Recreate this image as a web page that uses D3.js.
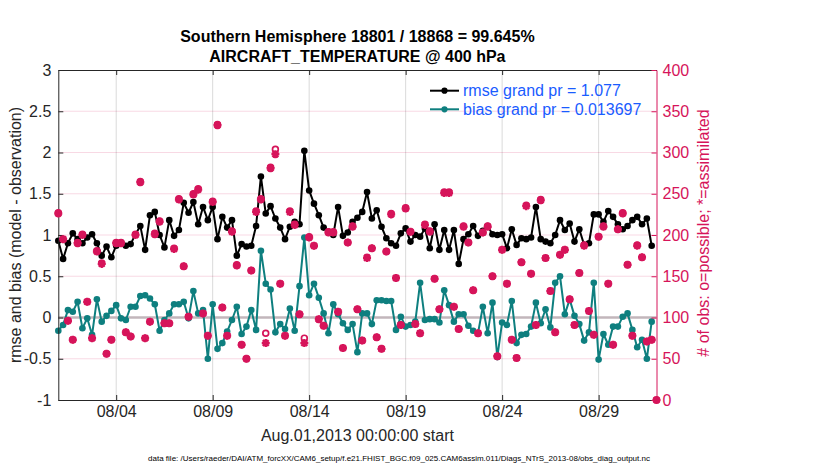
<!DOCTYPE html>
<html>
<head>
<meta charset="utf-8">
<script src="https://cdn.jsdelivr.net/npm/d3@7"></script>
<style>
body { margin: 0; background: #fff; }
svg { display: block; font-family: "Liberation Sans", Arial, Helvetica, sans-serif; }
</style>
</head>
<body>
<svg width="830" height="470"></svg>
<script>
// 6-hourly bins, Aug 1 00Z .. Sep 1 00Z (125 bins)
var rmse = [
  0.93, 0.71, 0.90, 1.02, 0.95, 0.90, 0.97, 1.01, 0.90, 0.75,
  0.86, 0.73, 0.87, 0.91, 0.87, 0.89, 1.01, 1.11, 0.82, 1.24,
  1.28, 1.00, 0.85, 1.18, 0.99, 1.06, 1.39, 1.27, 1.40, 1.13,
  1.34, 1.18, 1.34, 0.95, 1.22, 1.09, 1.18, 0.75, 0.89, 0.86,
  0.87, 1.11, 1.71, 1.26, 1.35, 1.20, 1.09, 0.95, 1.10, 1.16,
  1.13, 2.02, 1.54, 1.38, 1.24, 1.09, 1.04, 1.00, 1.34, 0.99,
  1.03, 1.16, 1.21, 1.28, 1.52, 1.20, 1.30, 1.10, 0.96, 0.90,
  0.87, 1.02, 1.08, 0.92, 1.00, 0.98, 1.08, 0.84, 1.13, 0.82,
  1.06, 0.82, 1.06, 0.65, 0.95, 1.01, 1.11, 0.99, 1.05, 1.11,
  1.01, 1.00, 1.01, 0.84, 1.07, 0.88, 0.96, 0.95, 0.97, 1.34,
  0.95, 0.92, 0.90, 1.00, 1.18, 1.06, 1.14, 0.92, 1.07, 0.88,
  0.90, 1.25, 1.25, 1.16, 1.29, 1.22, 1.13, 1.07, 1.11, 1.18,
  1.22, 1.13, 1.20, 0.87, null
];

var bias = [
  -0.16, -0.09, 0.09, 0.07, 0.19, -0.13, -0.01, -0.21, 0.22, -0.05,
  0.02, 0.08, 0.15, -0.01, -0.03, 0.13, 0.13, 0.26, 0.27, 0.23,
  0.16, -0.16, -0.03, 0.05, 0.16, 0.16, 0.19, -0.01, 0.32, 0.05,
  0.09, -0.50, 0.16, -0.38, -0.31, -0.17, -0.03, 0.13, -0.20, -0.11,
  0.09, -0.15, 0.81, 0.41, 0.34, -0.18, -0.08, -0.14, 0.11, -0.16,
  0.38, 0.97, 0.27, 0.41, 0.24, 0.05, -0.19, 0.16, 0.04, -0.07,
  -0.15, -0.08, -0.42, 0.05, 0.05, -0.08, 0.21, 0.21, 0.20, 0.20,
  -0.15, 0.01, -0.11, -0.09, -0.05, 0.42, -0.03, -0.02, -0.02, -0.06,
  0.33, 0.15, -0.05, 0.04, 0.04, -0.10, -0.16, -0.19, 0.13, -0.19,
  0.18, -0.48, -0.06, -0.09, 0.20, -0.31, -0.21, -0.20, -0.11, 0.18,
  -0.07, 0.10, -0.12, 0.42, 0.50, 0.04, 0.22, 0.02, -0.08, -0.28,
  -0.18, 0.42, -0.51, -0.20, -0.33, -0.11, -0.11, 0.01, 0.05, -0.15,
  -0.36, -0.27, -0.50, -0.05, null
];

var possible = [
  227, 195, 96, 73, 191, 201, 119, 75, 181, 166,
  56, 73, 191, 191, 82, 77, 201, 265, 75, 95,
  202, 217, 93, 93, 184, 244, 162, 101, 250, 256,
  105, 78, 241, 334, 112, 78, 205, 164, 67, 50,
  157, 229, 244, 81, 282, 304, 141, 78, 229, 213,
  104, 75, 198, 187, 98, 90, 204, 204, 107, 63,
  191, 211, 110, 72, 173, 184, 76, 62, 180, 226,
  148, 91, 233, 204, 92, 81, 213, 205, 147, 110,
  252, 252, 113, 86, 211, 191, 133, 81, 203, 211,
  150, 53, 182, 141, 73, 51, 167, 236, 153, 91,
  243, 172, 132, 82, 176, 182, 122, 91, 154, 188,
  108, 79, 198, 211, 141, 67, 207, 227, 164, 78,
  188, 173, 71, 73, 0
];

var assimilated = [
  226, 195, 96, 73, 190, 200, 119, 75, 180, 165,
  56, 73, 190, 190, 82, 77, 200, 264, 75, 95,
  201, 216, 93, 93, 183, 243, 162, 101, 249, 255,
  105, 78, 240, 333, 112, 78, 204, 163, 67, 50,
  157, 228, 243, 69, 281, 298, 141, 78, 228, 212,
  104, 69, 197, 187, 98, 90, 203, 203, 107, 63,
  191, 210, 110, 72, 172, 184, 76, 62, 180, 225,
  148, 91, 232, 204, 92, 81, 212, 204, 147, 110,
  251, 251, 113, 86, 210, 191, 133, 81, 203, 210,
  150, 53, 182, 141, 73, 51, 167, 235, 153, 91,
  242, 172, 132, 82, 176, 182, 122, 91, 154, 187,
  108, 79, 198, 210, 141, 67, 207, 226, 164, 78,
  187, 173, 71, 73, 0
];

var tickDays = [4, 9, 14, 19, 24, 29];
var leftTicks = [-1, -0.5, 0, 0.5, 1, 1.5, 2, 2.5, 3];
var rightTicks = [0, 50, 100, 150, 200, 250, 300, 350, 400];
var titleLines = ["Southern Hemisphere 18801 / 18868 = 99.645%", "AIRCRAFT_TEMPERATURE @ 400 hPa"];
var legendLabels = ["rmse grand pr = 1.077", "bias grand pr = 0.013697"];

var startTime = Date.UTC(2013, 7, 1),
    endTime = Date.UTC(2013, 8, 1),
    binMs = 6 * 3600 * 1000;

var red = "#d6145a",
    teal = "#0e7f7f",
    ink = "#262626",
    font = "Liberation Sans, Arial, Helvetica, sans-serif";

var svg = d3.select("svg"),
    plot = {x0: 58.3, x1: 656.5, y0: 70, y1: 400};

var x = d3.scaleUtc().domain([new Date(startTime), new Date(endTime)]).range([plot.x0, plot.x1]),
    y = d3.scaleLinear().domain([-1, 3]).range([plot.y1, plot.y0]),
    y2 = d3.scaleLinear().domain([0, 400]).range([plot.y1, plot.y0]);

function t(i) { return new Date(startTime + i * binMs); }

var tickDates = tickDays.map(function(d) { return new Date(Date.UTC(2013, 7, d)); });

// grid
svg.append("g").selectAll("line")
  .data(rightTicks.slice(1, -1))
  .enter().append("line")
    .attr("x1", plot.x0).attr("x2", plot.x1)
    .attr("y1", function(d) { return y2(d); })
    .attr("y2", function(d) { return y2(d); })
    .attr("stroke", red).attr("stroke-opacity", 0.16).attr("stroke-width", 1);

svg.append("g").selectAll("line")
  .data(tickDates)
  .enter().append("line")
    .attr("x1", function(d) { return x(d); })
    .attr("x2", function(d) { return x(d); })
    .attr("y1", plot.y0).attr("y2", plot.y1)
    .attr("stroke", "#000").attr("stroke-opacity", 0.15).attr("stroke-width", 1);

// zero line for bias
svg.append("line")
    .attr("x1", plot.x0).attr("x2", plot.x1)
    .attr("y1", y(0)).attr("y2", y(0))
    .attr("stroke", "#c2b6bb").attr("stroke-width", 2.5);

function drawSeries(values, color) {
  var line = d3.line()
      .defined(function(d) { return d != null; })
      .x(function(d, i) { return x(t(i)); })
      .y(function(d) { return y(d); });

  svg.append("path")
      .datum(values)
      .attr("fill", "none")
      .attr("stroke", color)
      .attr("stroke-width", 2)
      .attr("stroke-linejoin", "round")
      .attr("d", line);

  svg.append("g").selectAll("circle")
    .data(values.map(function(d, i) { return {v: d, i: i}; }).filter(function(d) { return d.v != null; }))
    .enter().append("circle")
      .attr("cx", function(d) { return x(t(d.i)); })
      .attr("cy", function(d) { return y(d.v); })
      .attr("r", 3.3)
      .attr("fill", color);
}

drawSeries(rmse, "#000");
drawSeries(bias, teal);

// axes
var gx = svg.append("g")
    .attr("transform", "translate(0," + plot.y1 + ")")
    .call(d3.axisBottom(x).tickValues(tickDates).tickFormat(d3.utcFormat("%m/%d"))
      .tickSizeInner(-5).tickSizeOuter(0).tickPadding(6));
gx.attr("font-size", 16).attr("font-family", font);
gx.select(".domain").attr("stroke", ink);
gx.selectAll(".tick line").attr("stroke", ink);
gx.selectAll(".tick text").attr("fill", ink);

var gt = svg.append("g")
    .attr("transform", "translate(0," + plot.y0 + ")")
    .call(d3.axisTop(x).tickValues(tickDates).tickFormat("").tickSizeInner(-5).tickSizeOuter(0));
gt.select(".domain").attr("stroke", ink);
gt.selectAll(".tick line").attr("stroke", ink);

var gy = svg.append("g")
    .attr("transform", "translate(" + plot.x0 + ",0)")
    .call(d3.axisLeft(y).tickValues(leftTicks).tickFormat(function(d) { return String(d); })
      .tickSizeInner(-5).tickSizeOuter(0).tickPadding(7));
gy.attr("font-size", 16).attr("font-family", font);
gy.select(".domain").attr("stroke", ink);
gy.selectAll(".tick line").attr("stroke", ink);
gy.selectAll(".tick text").attr("fill", ink);

var gy2 = svg.append("g")
    .attr("transform", "translate(" + plot.x1 + ",0)")
    .call(d3.axisRight(y2).tickValues(rightTicks).tickFormat(function(d) { return String(d); })
      .tickSizeInner(-5).tickSizeOuter(0).tickPadding(6));
gy2.attr("font-size", 16).attr("font-family", font);
gy2.select(".domain").attr("stroke", red);
gy2.selectAll(".tick line").attr("stroke", red);
gy2.selectAll(".tick text").attr("fill", red);

// observation counts: o = possible, * = assimilated
var counts = svg.append("g");

counts.selectAll("circle")
  .data(possible)
  .enter().append("circle")
    .attr("cx", function(d, i) { return x(t(i)); })
    .attr("cy", function(d) { return y2(d); })
    .attr("r", 2.9)
    .attr("fill", "none")
    .attr("stroke", red)
    .attr("stroke-width", 1.7);

var star = "M-4,0H4M0,-4V4M-2.9,-2.9L2.9,2.9M-2.9,2.9L2.9,-2.9";
counts.selectAll("path")
  .data(assimilated)
  .enter().append("path")
    .attr("transform", function(d, i) { return "translate(" + x(t(i)) + "," + y2(d) + ")"; })
    .attr("d", star)
    .attr("fill", "none")
    .attr("stroke", red)
    .attr("stroke-width", 2.4);

// legend
var legend = svg.append("g");
[{label: legendLabels[0], color: "#000", ly: 90.7},
 {label: legendLabels[1], color: teal, ly: 109.3}].forEach(function(d) {
  legend.append("line")
      .attr("x1", 430).attr("x2", 459)
      .attr("y1", d.ly).attr("y2", d.ly)
      .attr("stroke", d.color).attr("stroke-width", 2);
  legend.append("circle")
      .attr("cx", 444.5).attr("cy", d.ly).attr("r", 3.1)
      .attr("fill", d.color);
  legend.append("text")
      .attr("x", 463).attr("y", d.ly + 5.7)
      .attr("font-size", 16)
      .attr("fill", "#1a5cff")
      .text(d.label);
});

// titles and labels
svg.selectAll(".title")
  .data(titleLines)
  .enter().append("text")
    .attr("class", "title")
    .attr("x", (plot.x0 + plot.x1) / 2)
    .attr("y", function(d, i) { return 41.7 + i * 20; })
    .attr("text-anchor", "middle")
    .attr("font-size", 16)
    .attr("font-weight", "bold")
    .attr("fill", "#000")
    .text(function(d) { return d; });

svg.append("text")
    .attr("x", (plot.x0 + plot.x1) / 2)
    .attr("y", 441)
    .attr("text-anchor", "middle")
    .attr("font-size", 16)
    .attr("fill", ink)
    .text("Aug.01,2013 00:00:00 start");

svg.append("text")
    .attr("transform", "translate(21," + (plot.y0 + plot.y1) / 2 + ") rotate(-90)")
    .attr("text-anchor", "middle")
    .attr("font-size", 16)
    .attr("fill", ink)
    .text("rmse and bias (model - observation)");

svg.append("text")
    .attr("transform", "translate(709," + ((plot.y0 + plot.y1) / 2 - 2) + ") rotate(-90)")
    .attr("text-anchor", "middle")
    .attr("font-size", 16)
    .attr("fill", red)
    .text("# of obs: o=possible; *=assimilated");

svg.append("text")
    .attr("x", 399)
    .attr("y", 461)
    .attr("text-anchor", "middle")
    .attr("font-size", 8)
    .attr("fill", "#000")
    .text("data file: /Users/raeder/DAI/ATM_forcXX/CAM6_setup/f.e21.FHIST_BGC.f09_025.CAM6assim.011/Diags_NTrS_2013-08/obs_diag_output.nc");
</script>
</body>
</html>
